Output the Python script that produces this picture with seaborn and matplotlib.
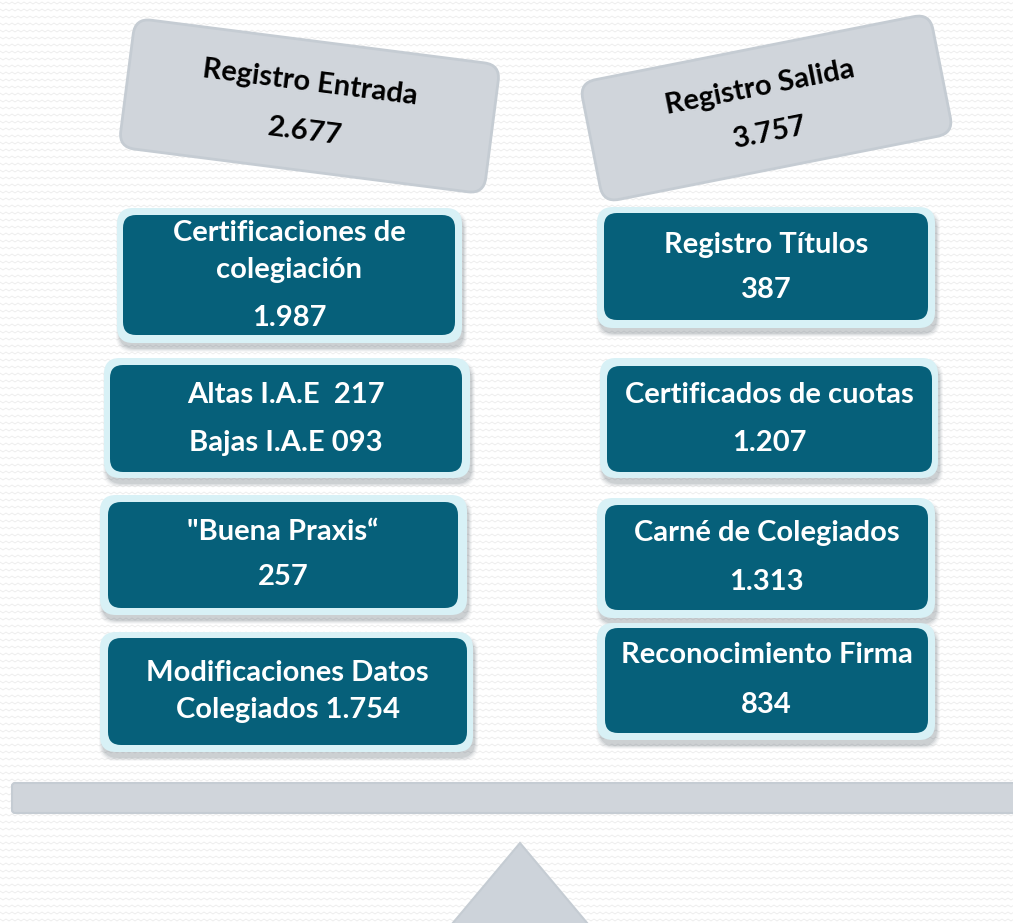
import numpy as np
import matplotlib
matplotlib.use("Agg")
import matplotlib.pyplot as plt
from matplotlib.patches import FancyBboxPatch, Polygon
from matplotlib.collections import LineCollection
import matplotlib.transforms as mtransforms
import seaborn as sns

# ---------------- data ----------------
header_titles = ["Registro Entrada", "Registro Salida"]
header_totals = ["2.677", "3.757"]
left_lines = [["Certificaciones de", "colegiación", "1.987"],
              ["Altas I.A.E  217", "Bajas I.A.E 093"],
              ['"Buena Praxis“', "257"],
              ["Modificaciones Datos", "Colegiados 1.754"]]
right_lines = [["Registro Títulos", "387"],
               ["Certificados de cuotas", "1.207"],
               ["Carné de Colegiados", "1.313"],
               ["Reconocimiento Firma", "834"]]

# ---------------- layout (pixel coordinates) ----------------
left_outer = [(117, 208, 462, 343), (104, 358, 470, 478), (100, 495, 467, 615), (100, 632, 473, 752)]
left_inner = [(123, 215, 455, 335), (110, 365, 462, 472), (108, 502, 458, 608), (108, 638, 467, 745)]
left_text_y = [[233, 270, 318], [395, 443], [532, 577], [673, 710]]
right_outer = [(597, 207, 935, 328), (600, 358, 938, 478), (597, 498, 935, 618), (597, 623, 935, 740)]
right_inner = [(604, 213, 928, 320), (607, 366, 932, 472), (605, 505, 928, 610), (605, 628, 928, 733)]
right_text_y = [[245, 290], [395, 443], [533, 582], [655, 705]]
header_geom = [(309.5, 106, 368, 130, 7.3), (766.5, 108, 357, 122, -11.2)]
header_text_pos = [[(310, 83), (305, 132)], [(760, 88), (770, 133)]]

sns.set_theme(style="white")
plt.rcParams['font.family'] = ['Lato', 'DejaVu Sans']

DARK = "#06607A"
LIGHT = "#D8F1F6"
GREY = "#D0D5DB"
GREY_EDGE = "#C5CCD3"
FS = 21

fig = plt.figure(figsize=(10.13, 9.23), dpi=100)
fig.patch.set_facecolor("white")
ax = fig.add_axes([0, 0, 1, 1])
ax.set_xlim(0, 1013)
ax.set_ylim(923, 0)
ax.axis("off")

# subtle zig-zag background texture
xs = np.arange(0, 1016, 3.0)
segs = []
for r in np.arange(2, 926, 7.0):
    ys = r + np.where((np.arange(len(xs)) % 2) == 0, 0.0, 2.0)
    segs.append(np.column_stack([xs, ys]))
ax.add_collection(LineCollection(segs, colors="#ECECEC", linewidths=0.6, zorder=0))


def rbox(x0, y0, x1, y1, r, fc, ec="none", lw=0, z=2, alpha=1.0, transform=None):
    p = FancyBboxPatch((x0, y0), x1 - x0, y1 - y0,
                       boxstyle=f"round,pad=0,rounding_size={r}",
                       fc=fc, ec=ec, lw=lw, zorder=z, alpha=alpha)
    if transform is not None:
        p.set_transform(transform)
    ax.add_patch(p)
    return p


def draw_column(outer, inner, lines, ty):
    for (o, i, ls, ys) in zip(outer, inner, lines, ty):
        # soft shadow
        for k, a in enumerate([0.10, 0.08, 0.06, 0.04]):
            rbox(o[0] + 2 - k, o[1] + 6 - k, o[2] + 2 + k, o[3] + 6 + k, 16, "#3A4A55", z=1, alpha=a)
        rbox(*o, 16, LIGHT, z=2)
        rbox(*i, 13, DARK, z=3)
        cx = (i[0] + i[2]) / 2
        for s, y in zip(ls, ys):
            ax.text(cx, y, s, color="white", fontsize=FS, fontweight="bold",
                    ha="center", va="center", zorder=4)


draw_column(left_outer, left_inner, left_lines, left_text_y)
draw_column(right_outer, right_inner, right_lines, right_text_y)

# tilted header boxes
for (cx, cy, w, h, ang), title, total, tp in zip(header_geom, header_titles, header_totals, header_text_pos):
    tr = mtransforms.Affine2D().rotate_deg_around(cx, cy, ang) + ax.transData
    rbox(cx - w / 2, cy - h / 2, cx + w / 2, cy + h / 2, 16, GREY, ec=GREY_EDGE, lw=2, z=2, transform=tr)
    ax.text(tp[0][0], tp[0][1], title, color="black", fontsize=FS, fontweight="bold",
            ha="center", va="center", rotation=-ang, rotation_mode="anchor", zorder=4)
    ax.text(tp[1][0], tp[1][1], total, color="black", fontsize=FS, fontweight="bold",
            ha="center", va="center", rotation=-ang, rotation_mode="anchor", zorder=4)

# beam
rbox(12, 783, 1040, 813, 3, GREY, ec=GREY_EDGE, lw=1.5, z=2)
# fulcrum
ax.add_patch(Polygon([(520, 843), (447, 930), (593, 930)], closed=True,
                     fc="#CDD3DA", ec="#C5CCD3", lw=1.5, zorder=2))

fig.savefig("out.png", dpi=100, facecolor="white")
